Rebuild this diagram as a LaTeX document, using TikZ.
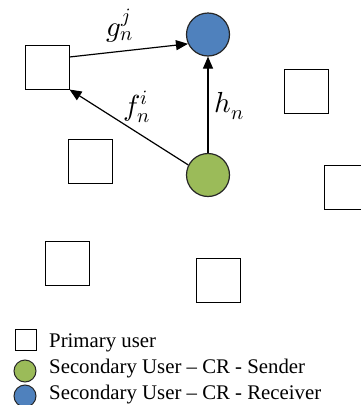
\documentclass[tikz,border=0pt]{standalone}
\usepackage{fontspec}
\setmainfont{Liberation Serif}
\usepackage{unicode-math}
\setmathfont{Latin Modern Math}
\usetikzlibrary{arrows.meta}
\definecolor{subgreen}{RGB}{155,187,89}
\definecolor{subblue}{RGB}{79,129,189}
\tikzset{
  pu/.style={draw=black, line width=1pt, minimum size=44pt, inner sep=0pt, fill=white},
  su/.style={circle, draw=black!85, line width=1.2pt, minimum size=43pt, inner sep=0pt},
  link/.style={line width=1.2pt, -{Triangle[length=12pt, width=10pt]}},
  chan/.style={font=\fontsize{29}{33}\selectfont, inner sep=0pt},
  legtext/.style={font=\fontsize{20.8}{24}\selectfont, anchor=base west, inner sep=0pt},
}
\begin{document}
\begin{tikzpicture}[x=1pt, y=-1pt]
\useasboundingbox (0,0) rectangle (361,405);
% primary users
\node[pu] (p1) at (47,67) {};
\node[pu] (p2) at (306,91.5) {};
\node[pu] (p3) at (90.5,161) {};
\node[pu] (p4) at (346.5,187.5) {};
\node[pu] (p5) at (67.5,263) {};
\node[pu] (p6) at (218,280.5) {};
% secondary users
\node[su, fill=subblue] (rx) at (208,34.5) {};
\node[su, fill=subgreen] (tx) at (208,175) {};
% channels
\draw[link] ([yshift=10pt]p1.east) -- (rx.205);
\draw[link] (tx.153) -- (p1.south east);
\draw[link] (tx.north) -- (rx.south);
\node[chan] (g) at (120,26) {$g_n^j$};
\node[chan] (f) at (137,107) {$f_n^i$};
\node[chan] (h) at (229,106) {$h_n$};
% legend
\node[pu, minimum size=21pt, line width=1pt] (lp) at (25.7,340) {};
\node[su, fill=subgreen, minimum size=22pt, line width=1pt] (lg) at (25,371) {};
\node[su, fill=subblue, minimum size=22pt, line width=1pt] (lb) at (25,396) {};
\node[legtext] (tp) at (49,347.5) {Primary user};
\node[legtext] (tg) at (49,373) {Secondary User – CR - Sender};
\node[legtext] (tb) at (49,399) {Secondary User – CR - Receiver};
\end{tikzpicture}
\end{document}
